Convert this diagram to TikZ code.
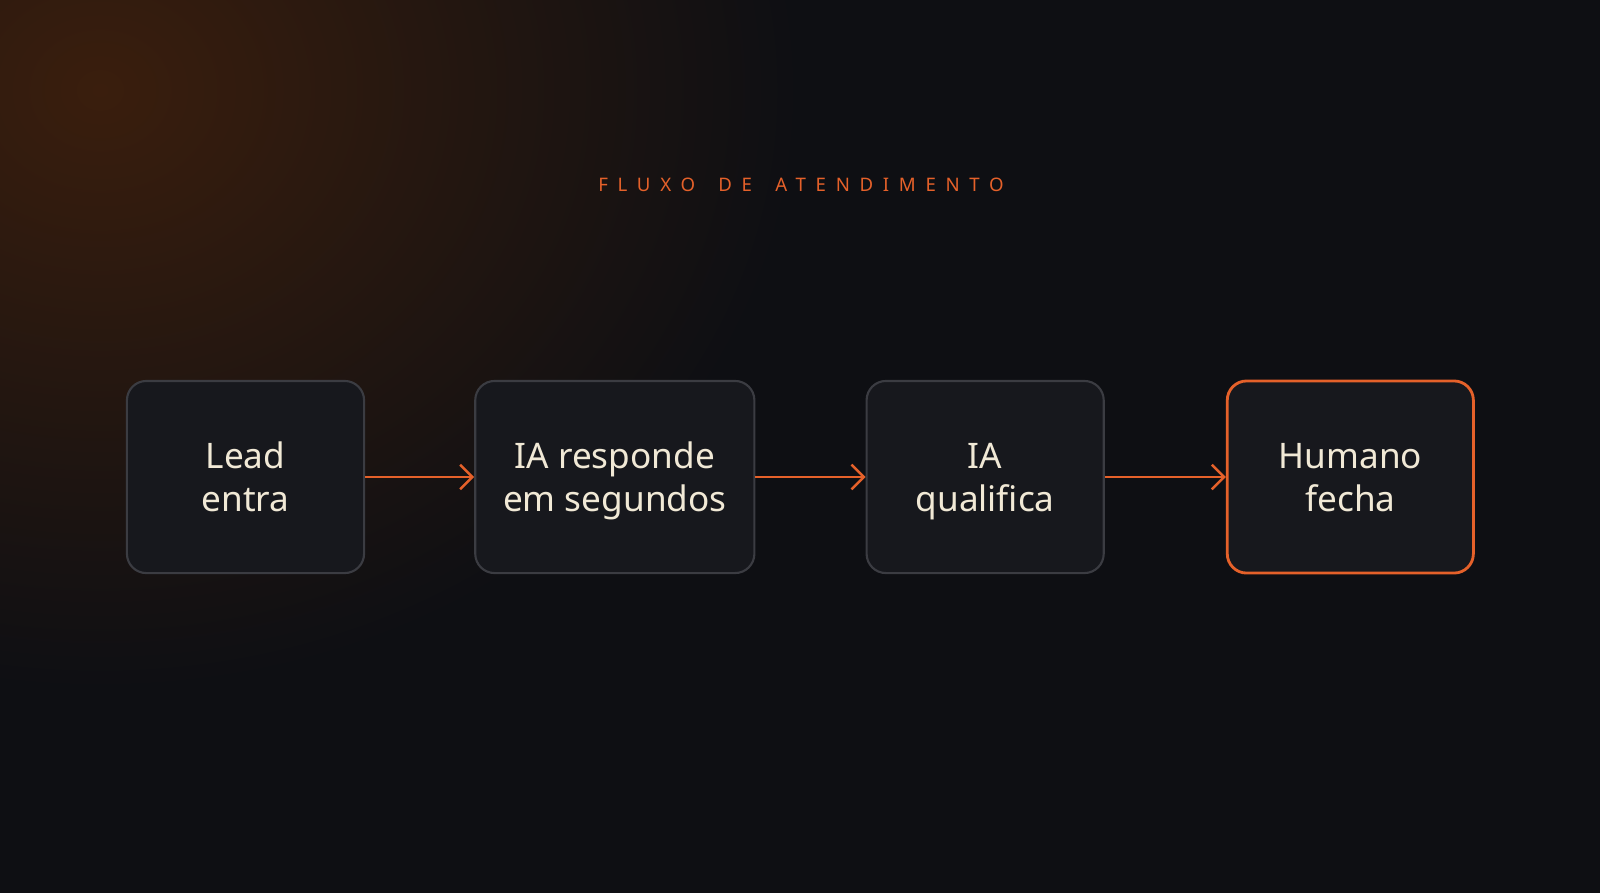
\documentclass[tikz,border=0pt]{standalone}
\usepackage{fontspec}
\setmainfont{Noto Sans}
\newfontfamily\titulofonte[LetterSpace=52]{Noto Sans}
\usepackage{xcolor}
\usetikzlibrary{arrows.meta,positioning,calc}

\definecolor{fundo}{HTML}{0E0F13}
\definecolor{brilho}{HTML}{3A1E0D}
\definecolor{caixa}{HTML}{17181D}
\definecolor{borda}{HTML}{3B3C42}
\definecolor{laranja}{HTML}{E5612A}
\definecolor{creme}{HTML}{F1E9D6}

\begin{document}
\begin{tikzpicture}[
    x=0.01cm, y=-0.01cm,
    etapa/.style={rectangle, draw=borda, line width=0.6pt, fill=caixa, minimum width=2.37cm, minimum height=1.92cm, align=center, text=creme, font=\fontsize{10}{12.2}\selectfont, text height=19.8pt, text depth=0pt, rounded corners=5.5pt},
    destaque/.style={etapa, draw=laranja, line width=0.8pt},
    seta/.style={-{Straight Barb[length=3.5pt, width=7pt]}, line width=0.7pt, laranja},
    titulo/.style={font=\titulofonte\fontsize{5.3}{6}\selectfont, text=laranja}
]

% Fundo com brilho no canto
\useasboundingbox (0,0) rectangle (1600,893);
\fill[fundo] (0,0) rectangle (1600,893);
\begin{scope}
\clip (0,0) rectangle (1600,893);
\shade[inner color=brilho, outer color=fundo] (100,90) ellipse (7cm and 6cm);
\end{scope}

% Titulo
\node[titulo] (titulo) at (801,185) {FLUXO\hspace{2.5pt} DE\hspace{2.5pt} ATENDIMENTO};

% Etapas
\node[etapa] (lead) at (245.5,477) {Lead\\entra};
\node[etapa, right=1.09cm of lead, minimum width=2.79cm] (resposta) {IA responde\\em segundos};
\node[etapa, right=1.10cm of resposta] (qualifica) {IA\\qualifica};
\node[destaque, right=1.21cm of qualifica, minimum width=2.46cm] (humano) {Humano\\fecha};

% Setas
\draw[seta] (lead.east) -- (resposta.west);
\draw[seta] (resposta.east) -- (qualifica.west);
\draw[seta] (qualifica.east) -- (humano.west);

\end{tikzpicture}
\end{document}
